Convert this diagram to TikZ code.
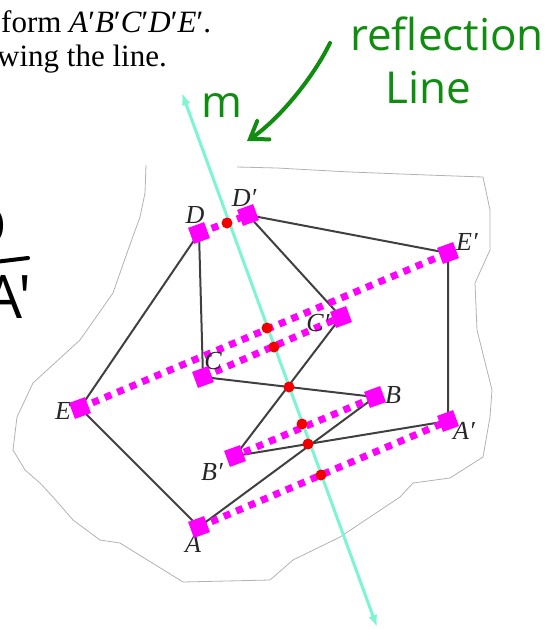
\documentclass[tikz,border=0pt]{standalone}
\usepackage{fontspec}
\setmainfont{Liberation Serif}
\newfontfamily\handfont{Open Sans}
\usetikzlibrary{arrows.meta}
\definecolor{mirrorcyan}{RGB}{125,245,210}
\definecolor{hlmagenta}{RGB}{255,0,255}
\definecolor{penred}{RGB}{240,0,0}
\definecolor{pengreen}{RGB}{16,140,16}
\tikzset{
  vert/.style={rectangle, fill=hlmagenta, minimum size=17pt, inner sep=0pt, rotate=20},
  vlab/.style={font=\fontsize{26}{30}\selectfont\itshape, inner sep=0pt, text=black!85},
  polyedge/.style={draw=black!75, line width=2pt},
  mapline/.style={draw=hlmagenta, line width=7pt, dash pattern=on 7pt off 6.5pt},
  hit/.style={circle, fill=penred, minimum size=11pt, inner sep=0pt},
  ink/.style={draw=pengreen, line width=4pt, line cap=round, line join=round},
  handtext/.style={font=\handfont\fontsize{44}{50}\selectfont, inner sep=0pt},
  printtext/.style={font=\fontsize{31}{36}\selectfont, inner sep=0pt},
  cutout/.style={draw=black!30, line width=0.8pt},
}
\begin{document}
\begin{tikzpicture}[x=1pt,y=-1pt]
\useasboundingbox (0,0) rectangle (547,629);
% printed text at the top
\node[printtext, anchor=base west] (line1) at (1,32) {form \textit{A}′\textit{B}′\textit{C}′\textit{D}′\textit{E}′.};
\node[printtext, anchor=base west] (line2) at (-3,66) {wing the line.};
% cut-out edge
\draw[cutout] (146,165) -- (145,193) -- (140,217) -- (127,253) -- (113,293) -- (80,340)
  -- (33,383) -- (17,417) -- (13,450) -- (25,470) -- (40,483) -- (53,497) -- (73,520)
  -- (100,540) -- (120,543) -- (183,582) -- (270,580) -- (293,560) -- (340,537)
  -- (400,497) -- (413,483) -- (450,478) -- (483,457) -- (490,417) -- (492,390)
  -- (477,330) -- (475,283) -- (490,250) -- (490,210) -- (483,177) -- (427,175)
  -- (350,172) -- (313,170) -- (277,168) -- (237,167);
% vertices
\coordinate (A) at (199,527);
\coordinate (B) at (375,397);
\coordinate (C) at (203,377);
\coordinate (D) at (199,233);
\coordinate (E) at (80,408);
\coordinate (A') at (448,421);
\coordinate (B') at (235,456);
\coordinate (C') at (341,317);
\coordinate (D') at (248,215);
\coordinate (E') at (448,253);
% the two figures
\draw[polyedge] (A) -- (B) -- (C) -- (D) -- (E) -- cycle;
\draw[polyedge] (A') -- (B') -- (C') -- (D') -- (E') -- cycle;
% line of reflection
\coordinate (mtop) at (182,93);
\coordinate (mbot) at (377,627);
\draw[mirrorcyan, line width=3pt, {Latex[length=12pt,width=9pt]}-{Latex[length=12pt,width=9pt]}] (mbot) -- (mtop);
% point to image
\draw[mapline] (D) -- (D');
\draw[mapline] (E) -- (E');
\draw[mapline] (C) -- (C');
\draw[mapline] (B) -- (B');
\draw[mapline] (A) -- (A');
% labels
\node[vlab] (labD) at (195,215) {D};
\node[vlab] (labD') at (244,198) {D′};
\node[vlab] (labC') at (318,323) {C′};
\node[vlab] (labC) at (213,361) {C};
\node[vlab] (labB) at (393,395) {B};
\node[vlab] (labE) at (63,411) {E};
\node[vlab] (labE') at (467,242) {E′};
\node[vlab] (labA') at (464,431) {A′};
\node[vlab] (labB') at (212,472) {B′};
\node[vlab] (labA) at (193,544) {A};
% magenta squares
\foreach \v in {A,B,C,D,E,A',B',C',D',E'}
  \node[vert] (sq\v) at (\v) {};
% red dots on m
\node[hit] (hitD) at (227,223) {};
\node[hit] (hitE) at (267,328) {};
\node[hit] (hitC) at (274,347) {};
\node[hit] (hitCB) at (289,387) {};
\node[hit] (hitB) at (302,424) {};
\node[hit] (hitAB) at (308,444) {};
\node[hit] (hitA) at (321,475) {};
% handwritten notes
\node[handtext, text=pengreen, anchor=base west] (mname) at (201,117) {m};
\node[handtext, text=pengreen, anchor=base west] (refl) at (350,50) {reflection};
\node[handtext, text=pengreen, anchor=base west] (linew) at (385,103) {Line};
\coordinate (inkstart) at (330,43);
\coordinate (inkend) at (247,141);
\draw[ink, -{Straight Barb[length=16pt,width=22pt,line cap=round]}] (inkstart) .. controls (312,80) and (277,121) .. (inkend);
\node[handtext, font=\handfont\fontsize{60}{66}\selectfont, anchor=base east] (fracD) at (7,247) {D};
\coordinate (barL) at (-5,262);
\coordinate (barR) at (28,258);
\draw[black, line width=4pt, line cap=round] (barL) -- (barR);
\node[handtext, font=\handfont\fontsize{60}{66}\selectfont, anchor=base west] (fracA) at (-16,318) {A'};
\end{tikzpicture}
\end{document}
